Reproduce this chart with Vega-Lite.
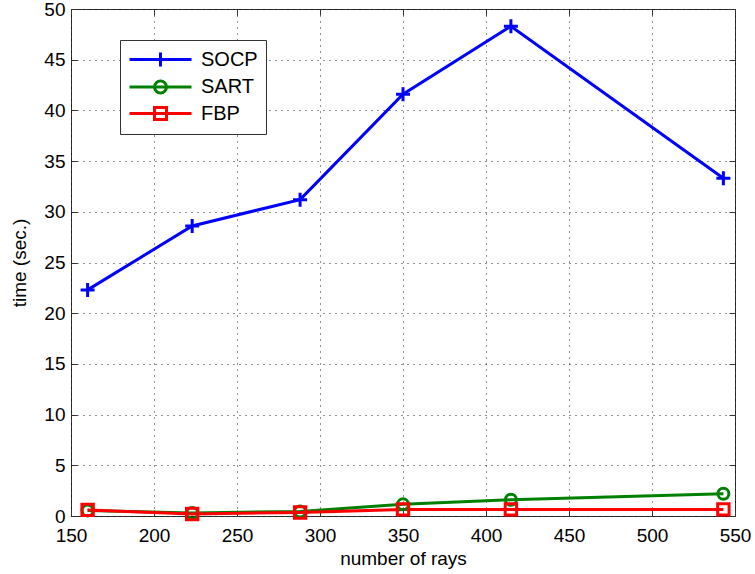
{
  "$schema": "https://vega.github.io/schema/vega-lite/v6.json",
  "width": 664,
  "height": 507,
  "autosize": "none",
  "padding": {"left": 71, "top": 9, "right": 20, "bottom": 58},
  "background": "white",
  "config": {
    "font": "Liberation Sans",
    "view": {"stroke": "#333333", "strokeWidth": 1},
    "axis": {
      "domain": false,
      "grid": true,
      "gridColor": "black",
      "gridDash": [1, 5],
      "gridOpacity": 0.85,
      "gridWidth": 1,
      "tickColor": "#333333",
      "tickSize": -6,
      "tickWidth": 1,
      "labelFont": "Liberation Sans",
      "labelFontSize": 19,
      "labelColor": "black",
      "labelFlush": false,
      "labelOverlap": false,
      "titleFont": "Liberation Sans",
      "titleFontSize": 19,
      "titleFontWeight": "normal",
      "titleColor": "black"
    }
  },
  "data": {
    "values": [
      {"rays": 160, "time": 22.3, "method": "SOCP"},
      {"rays": 223, "time": 28.6, "method": "SOCP"},
      {"rays": 288, "time": 31.2, "method": "SOCP"},
      {"rays": 350, "time": 41.6, "method": "SOCP"},
      {"rays": 415, "time": 48.3, "method": "SOCP"},
      {"rays": 543, "time": 33.3, "method": "SOCP"},
      {"rays": 160, "time": 0.55, "method": "SART"},
      {"rays": 223, "time": 0.3, "method": "SART"},
      {"rays": 288, "time": 0.45, "method": "SART"},
      {"rays": 350, "time": 1.15, "method": "SART"},
      {"rays": 415, "time": 1.6, "method": "SART"},
      {"rays": 543, "time": 2.2, "method": "SART"},
      {"rays": 160, "time": 0.6, "method": "FBP"},
      {"rays": 223, "time": 0.2, "method": "FBP"},
      {"rays": 288, "time": 0.35, "method": "FBP"},
      {"rays": 350, "time": 0.65, "method": "FBP"},
      {"rays": 415, "time": 0.65, "method": "FBP"},
      {"rays": 543, "time": 0.65, "method": "FBP"}
    ]
  },
  "layer": [
    {
      "mark": {"type": "line", "strokeWidth": 3},
      "encoding": {
        "x": {
          "field": "rays", "type": "quantitative",
          "scale": {"domain": [150, 550], "nice": false, "zero": false},
          "axis": {"orient": "bottom", "values": [150, 200, 250, 300, 350, 400, 450, 500, 550], "labelPadding": 16, "title": "number of rays", "titlePadding": 4}
        },
        "y": {
          "field": "time", "type": "quantitative",
          "scale": {"domain": [0, 50], "nice": false},
          "axis": {"orient": "left", "values": [0, 5, 10, 15, 20, 25, 30, 35, 40, 45, 50], "labelPadding": 12, "title": "time (sec.)", "titlePadding": 14}
        },
        "color": {
          "field": "method", "type": "nominal",
          "scale": {"domain": ["SOCP", "SART", "FBP"], "range": ["#0000ff", "#008000", "#ff0000"]},
          "legend": {
            "title": null,
            "orient": "none",
            "legendX": 49,
            "legendY": 31,
            "direction": "vertical",
            "strokeColor": "#333333",
            "fillColor": "white",
            "padding": 8,
            "symbolSize": 400,
            "symbolStrokeWidth": 3,
            "symbolType": "stroke",
            "labelFont": "Liberation Sans",
            "labelFontSize": 20,
            "labelColor": "black",
            "labelOffset": 50,
            "rowPadding": 1.5,
            "encode": {
              "symbols": {
                "update": {
                  "shape": {"signal": "datum.value === 'SOCP' ? 'M-1,0H5.2M2.1,-0.7V0.7' : datum.value === 'SART' ? 'M-1,0H5.2M2.7,0C2.7,0.331 2.431,0.6 2.1,0.6C1.769,0.6 1.5,0.331 1.5,0C1.5,-0.331 1.769,-0.6 2.1,-0.6C2.431,-0.6 2.7,-0.331 2.7,0Z' : 'M-1,0H5.2M1.5,-0.6H2.7V0.6H1.5Z'"},
                  "fill": {"value": "transparent"},
                  "strokeWidth": {"value": 3}
                }
              }
            }
          }
        }
      }
    },
    {
      "transform": [{"filter": "datum.method === 'SOCP'"}],
      "mark": {"type": "point", "shape": "M-1,0H1M0,-1V1", "size": 196, "filled": false, "strokeWidth": 3, "opacity": 1},
      "encoding": {
        "x": {"field": "rays", "type": "quantitative", "axis": null},
        "y": {"field": "time", "type": "quantitative", "axis": null},
        "color": {"field": "method", "type": "nominal"}
      }
    },
    {
      "transform": [{"filter": "datum.method === 'SART'"}],
      "mark": {"type": "point", "shape": "circle", "size": 121, "filled": false, "strokeWidth": 3, "opacity": 1},
      "encoding": {
        "x": {"field": "rays", "type": "quantitative", "axis": null},
        "y": {"field": "time", "type": "quantitative", "axis": null},
        "color": {"field": "method", "type": "nominal"}
      }
    },
    {
      "transform": [{"filter": "datum.method === 'FBP'"}],
      "mark": {"type": "point", "shape": "square", "size": 130, "filled": false, "strokeWidth": 3, "opacity": 1},
      "encoding": {
        "x": {"field": "rays", "type": "quantitative", "axis": null},
        "y": {"field": "time", "type": "quantitative", "axis": null},
        "color": {"field": "method", "type": "nominal"}
      }
    },
    {
      "mark": {"type": "line", "opacity": 0},
      "encoding": {
        "x": {
          "field": "rays", "type": "quantitative",
          "axis": {"orient": "top", "values": [150, 200, 250, 300, 350, 400, 450, 500, 550], "labels": false, "grid": false, "title": null}
        },
        "y": {
          "field": "time", "type": "quantitative",
          "axis": {"orient": "right", "values": [0, 5, 10, 15, 20, 25, 30, 35, 40, 45, 50], "labels": false, "grid": false, "title": null}
        },
        "detail": {"field": "method", "type": "nominal"}
      }
    }
  ],
  "resolve": {"axis": {"x": "independent", "y": "independent"}}
}
